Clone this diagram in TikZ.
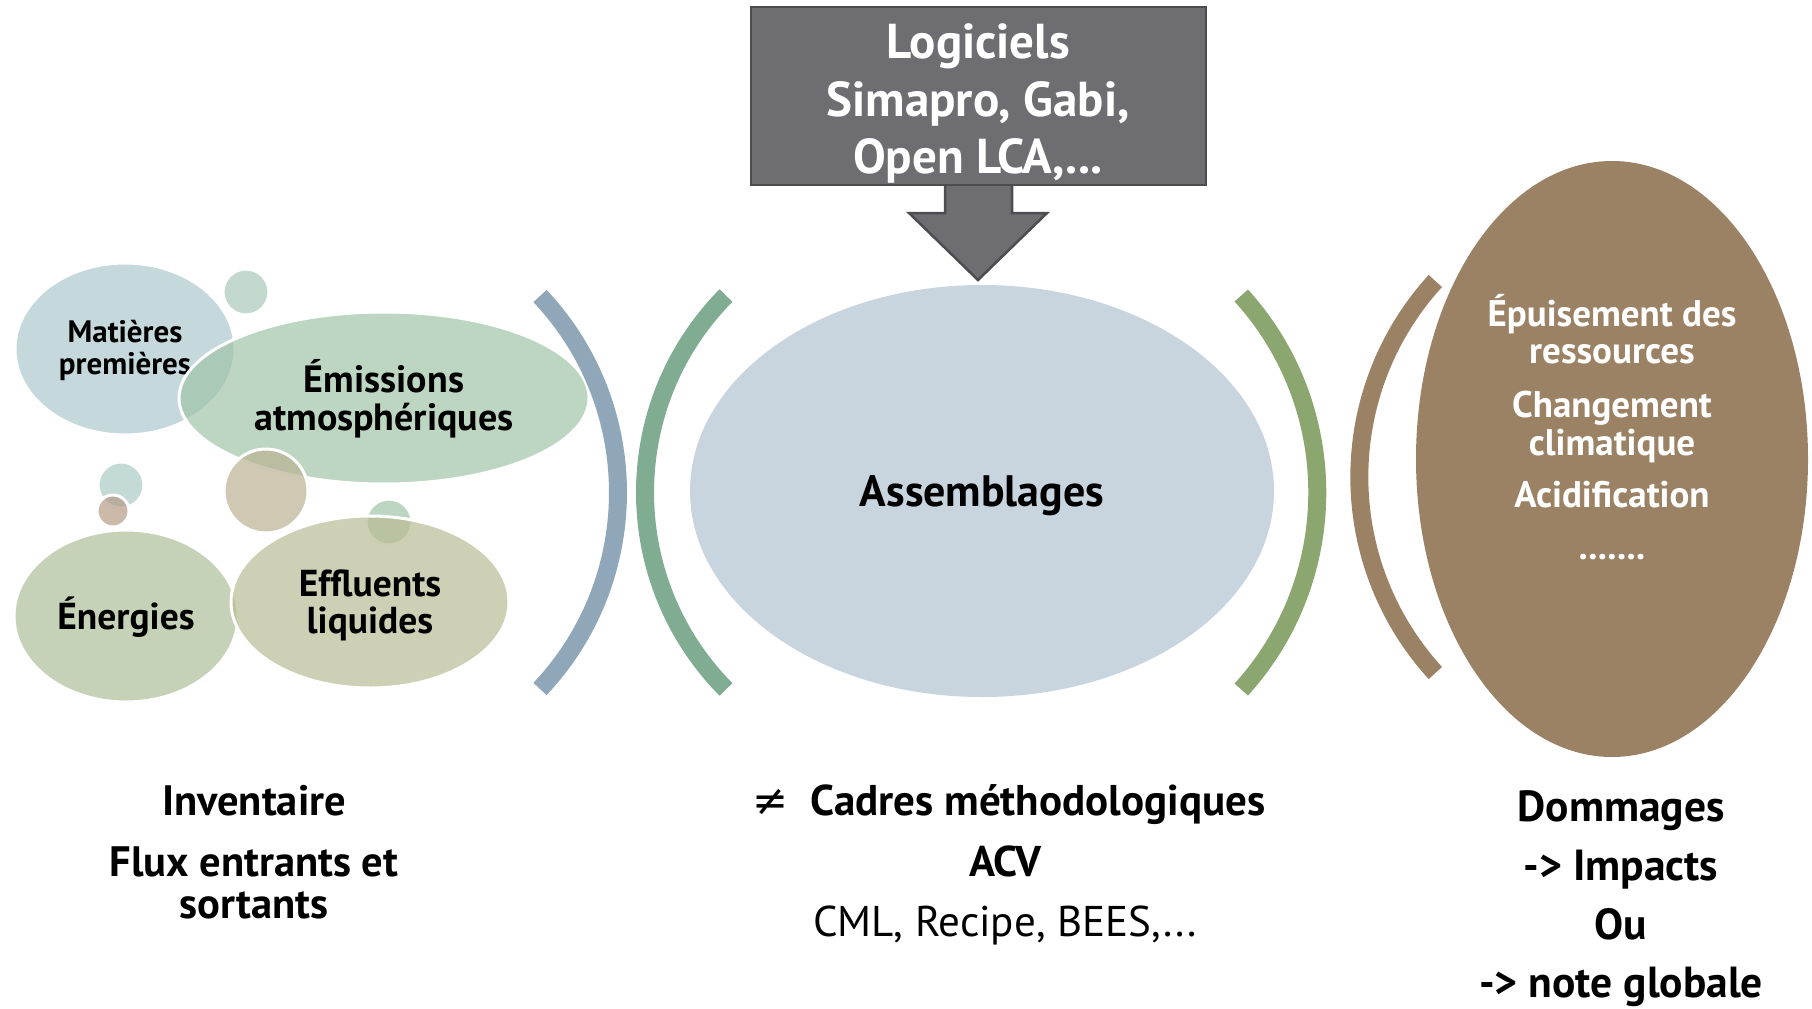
\documentclass[tikz,border=0pt]{standalone}
\usepackage{fontspec}
\setmainfont{PT Sans}
\newfontfamily\symfont{DejaVu Sans}
\usetikzlibrary{shapes.geometric}
\definecolor{matc}{HTML}{ACC7CC}
\definecolor{emic}{HTML}{A1C4A8}
\definecolor{enec}{HTML}{AEBF9A}
\definecolor{effc}{HTML}{B8BC94}
\definecolor{tanc}{HTML}{BAB294}
\definecolor{topc}{HTML}{ABC9B9}
\definecolor{tealc}{HTML}{ABCAC4}
\definecolor{brdotc}{HTML}{B59B86}
\definecolor{arcblue}{HTML}{8FA7B8}
\definecolor{arcgreenA}{HTML}{80AC91}
\definecolor{arcgreenB}{HTML}{8BA66F}
\definecolor{arcbrown}{HTML}{9C8264}
\definecolor{brownfill}{HTML}{9B8265}
\definecolor{assfill}{HTML}{C8D5DE}
\definecolor{boxfill}{HTML}{6E6D72}
\definecolor{boxedge}{HTML}{4D4D50}
\begin{document}
\begin{tikzpicture}[x=1pt,y=-1pt,
  blob/.style={ellipse, draw=white, line width=3pt, fill opacity=0.7, draw opacity=1, inner sep=0pt},
  solid blob/.style={ellipse, inner sep=0pt, draw=none},
  txt/.style={anchor=base, inner sep=0pt, font=\bfseries\fontsize{#1}{#1}\selectfont},
  wtxt/.style={txt=#1, text=white},
  bracket/.style={line width=18pt}
]
\useasboundingbox (0,0) rectangle (1812,1009);

% ---- left cluster ----
\node[blob, fill=matc, minimum width=220, minimum height=172] (mat) at (125,349) {};
\node[txt=31] (matA) at (125,342) {Matières};
\node[txt=31] (matB) at (125,374) {premières};
\node[blob, fill=topc, minimum size=46] (topdot) at (246,292) {};
\node[blob, fill=emic, minimum width=410, minimum height=172] (emi) at (384,398) {};
\node[blob, fill=tealc, minimum size=46] (tealdot) at (121,485) {};
\node[blob, fill=brdotc, minimum size=32] (brdot) at (113,511) {};
\node[blob, fill=tanc, minimum size=84] (tan) at (266,491) {};
\node[blob, fill=emic, minimum size=46] (greendot) at (389,522) {};
\node[blob, fill=enec, minimum width=224, minimum height=172] (ene) at (126,616) {};
\node[blob, fill=effc, minimum width=278, minimum height=172] (eff) at (370,602) {};
\node[txt=38] (emiA) at (384,392) {Émissions};
\node[txt=38] (emiB) at (384,430) {atmosphériques};
\node[txt=37.5] (eneA) at (126,629) {Énergies};
\node[txt=37.5] (effA) at (370,596) {Effluents};
\node[txt=37.5] (effB) at (370,633) {liquides};

% ---- brackets ----
\draw[bracket, arcblue] (331.5,492.5) ++(-43.3:286.5) arc[start angle=-43.3, end angle=43.3, radius=286.5];
\draw[bracket, arcgreenA] (925,492.5) ++(135.3:280) arc[start angle=135.3, end angle=224.7, radius=280];
\draw[bracket, arcgreenB] (1024,492.5) ++(-42.2:293.3) arc[start angle=-42.2, end angle=42.2, radius=293.3];
\draw[bracket, arcbrown] (1650,477) ++(137.6:290.7) arc[start angle=137.6, end angle=222.4, radius=290.7];

% ---- central ----
\node[solid blob, fill=assfill, minimum width=584, minimum height=412] (ass) at (982,491) {};
\node[txt=44] (assT) at (982,506) {Assemblages};

% ---- software box and arrow ----
\coordinate (tip) at (978,280);
\filldraw[fill=boxfill, draw=boxedge, line width=2.5pt, line join=miter]
  (945,180) -- (945,213) -- (909,213) -- (tip) -- (1047,213) -- (1012,213) -- (1012,180) -- cycle;
\node[draw=boxedge, fill=boxfill, line width=2.5pt, minimum width=455, minimum height=178, inner sep=0pt] (box) at (978.5,96) {};
\node[wtxt=49] (boxA) at (978,58) {Logiciels};
\node[wtxt=49] (boxB) at (978,116) {Simapro, Gabi,};
\node[wtxt=49] (boxC) at (978,173) {Open LCA,...};

% ---- results ----
\node[solid blob, fill=brownfill, minimum width=392, minimum height=596] (res) at (1612,459) {};
\node[wtxt=37] (resA) at (1612,326) {Épuisement des};
\node[wtxt=37] (resB) at (1612,363) {ressources};
\node[wtxt=37] (resC) at (1612,417) {Changement};
\node[wtxt=37] (resD) at (1612,455) {climatique};
\node[wtxt=37] (resE) at (1612,507) {Acidification};
\node[wtxt=37] (resF) at (1612,559) {.......};

% ---- bottom captions ----
\node[txt=42.5] (invA) at (254,815) {Inventaire};
\node[txt=42.5] (invB) at (254,876) {Flux entrants et};
\node[txt=42.5] (invC) at (254,918) {sortants};
\node[txt=43] (cadA) at (1009,815) {{\symfont\mdseries ≠}\ \ Cadres méthodologiques};
\node[txt=43] (cadB) at (1005,876) {ACV};
\node[anchor=base, inner sep=0pt, font=\fontsize{43}{43}\selectfont] (cadC) at (1005,936) {CML, Recipe, BEES,...};
\node[txt=43.5] (domA) at (1621,821) {Dommages};
\node[txt=43.5] (domB) at (1621,880) {-> Impacts};
\node[txt=43.5] (domC) at (1621,939) {Ou};
\node[txt=43.5] (domD) at (1621,997) {-> note globale};
\end{tikzpicture}
\end{document}
